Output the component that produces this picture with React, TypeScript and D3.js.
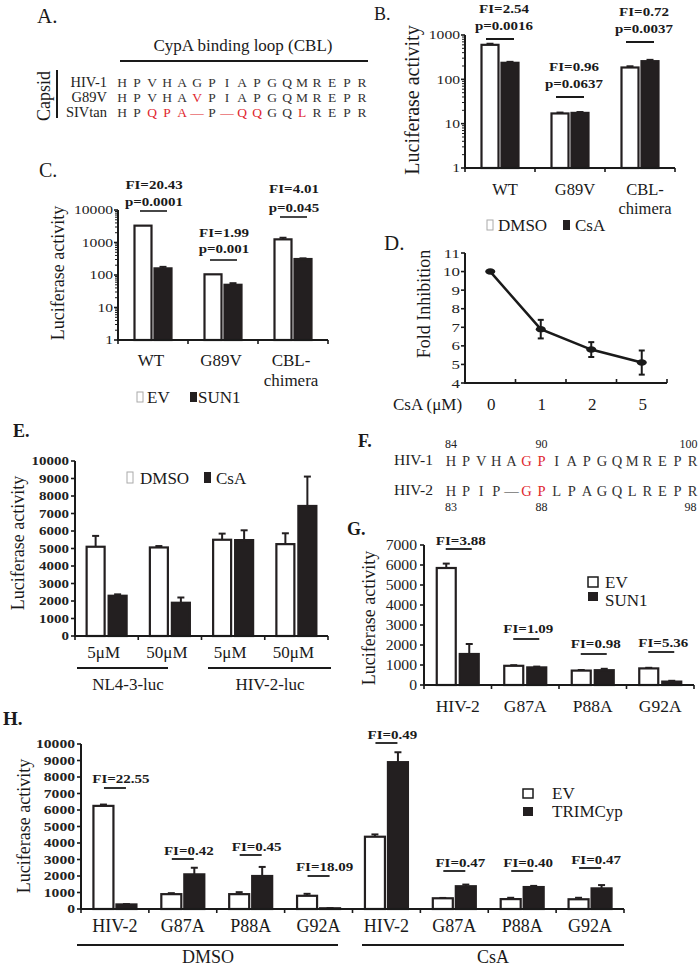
import React from "react";
import * as d3 from "d3";

const FONT = "'Liberation Serif','Times New Roman',Times,serif";
const INK = "#1a1a1a";
const DARK = "#231f20";
const RED = "#e0282e";

// ---------------- data ----------------
// A: sequences
const aRowLabels = ["HIV-1", "G89V", "SIVtan"];
const aSeqs = [
  ["H", "P", "V", "H", "A", "G", "P", "I", "A", "P", "G", "Q", "M", "R", "E", "P", "R"],
  ["H", "P", "V", "H", "A", "V", "P", "I", "A", "P", "G", "Q", "M", "R", "E", "P", "R"],
  ["H", "P", "Q", "P", "A", "—", "P", "—", "Q", "Q", "G", "Q", "L", "R", "E", "P", "R"],
];
const aRed = [[], [5], [2, 3, 4, 5, 7, 8, 9, 12]];
const aTitle = "CypA binding loop (CBL)";
const aSide = "Capsid";

// B
const bCats = ["WT", "G89V", "CBL-chimera"];
const bCatLines = [["WT"], ["G89V"], ["CBL-", "chimera"]];
const bDMSO = [600, 17, 185];
const bDMSOErr = [35, 0.8, 12];
const bCsA = [236, 17.5, 257];
const bCsAErr = [12, 0.8, 18];
const bFI = ["FI=2.54", "FI=0.96", "FI=0.72"];
const bP = ["p=0.0016", "p=0.0637", "p=0.0037"];
const bTicks = [1, 10, 100, 1000];
const bLegend = ["DMSO", "CsA"];

// C
const cCats = ["WT", "G89V", "CBL-chimera"];
const cCatLines = [["WT"], ["G89V"], ["CBL-", "chimera"]];
const cEV = [3300, 105, 1250];
const cEVErr = [0, 0, 150];
const cSUN1 = [160, 50, 310];
const cSUN1Err = [18, 6, 15];
const cFI = ["FI=20.43", "FI=1.99", "FI=4.01"];
const cP = ["p=0.0001", "p=0.001", "p=0.045"];
const cTicks = [1, 10, 100, 1000, 10000];
const cLegend = ["EV", "SUN1"];

// D
const dDose = ["0", "1", "2", "5"];
const dFold = [10, 6.9, 5.8, 5.1];
const dErr = [0.05, 0.5, 0.4, 0.65];
const dTicks = [4, 5, 6, 7, 8, 9, 10, 11];

// E
const eCats = ["5μM", "50μM", "5μM", "50μM"];
const eDMSO = [5100, 5060, 5500, 5250];
const eDMSOErr = [620, 80, 350, 620];
const eCsA = [2300, 1900, 5480, 7430];
const eCsAErr = [80, 300, 560, 1680];
const eGroups = ["NL4-3-luc", "HIV-2-luc"];
const eTicks = [0, 1000, 2000, 3000, 4000, 5000, 6000, 7000, 8000, 9000, 10000];
const eLegend = ["DMSO", "CsA"];

// F
const fRowLabels = ["HIV-1", "HIV-2"];
const fSeqs = [
  ["H", "P", "V", "H", "A", "G", "P", "I", "A", "P", "G", "Q", "M", "R", "E", "P", "R"],
  ["H", "P", "I", "P", "—", "G", "P", "L", "P", "A", "G", "Q", "L", "R", "E", "P", "R"],
];
const fRed = [[5, 6], [5, 6]];
const fTopNums = [["84", 0], ["90", 6], ["100", 16]];
const fBotNums = [["83", 0], ["88", 6], ["98", 16]];

// G
const gCats = ["HIV-2", "G87A", "P88A", "G92A"];
const gEV = [5850, 960, 720, 830];
const gEVErr = [220, 30, 30, 30];
const gSUN1 = [1550, 880, 740, 170];
const gSUN1Err = [500, 40, 70, 40];
const gFI = ["FI=3.88", "FI=1.09", "FI=0.98", "FI=5.36"];
const gTicks = [0, 1000, 2000, 3000, 4000, 5000, 6000, 7000];
const gLegend = ["EV", "SUN1"];

// H
const hCats = ["HIV-2", "G87A", "P88A", "G92A", "HIV-2", "G87A", "P88A", "G92A"];
const hEV = [6250, 900, 900, 800, 4380, 650, 600, 590];
const hEVErr = [80, 60, 120, 120, 140, 20, 80, 90];
const hTRIM = [277, 2100, 2000, 44, 8900, 1380, 1330, 1250];
const hTRIMErr = [20, 400, 550, 10, 600, 100, 70, 200];
const hFI = ["FI=22.55", "FI=0.42", "FI=0.45", "FI=18.09", "FI=0.49", "FI=0.47", "FI=0.40", "FI=0.47"];
const hTreat = ["DMSO", "CsA"];
const hTicks = [0, 1000, 2000, 3000, 4000, 5000, 6000, 7000, 8000, 9000, 10000];
const hLegend = ["EV", "TRIMCyp"];

// ---------------- layout (pixels) ----------------
const bAnn = [{ fi: 13, p: 30, line: 39 }, { fi: 71, p: 88, line: 97 }, { fi: 16, p: 33, line: 42 }];
const cAnn = [{ fi: 189, p: 206, line: 211 }, { fi: 237, p: 253, line: 260 }, { fi: 193, p: 212, line: 217 }];
const gAnn = [{ fi: 545, line: 549 }, { fi: 633, line: 639 }, { fi: 648, line: 654 }, { fi: 647, line: 652 }];
const hAnn = [
  { fi: 783, line: 788 }, { fi: 855, line: 859 }, { fi: 851, line: 855 }, { fi: 871, line: 876 },
  { fi: 739, line: 743 }, { fi: 867, line: 871 }, { fi: 867, line: 871 }, { fi: 864, line: 868 },
];

// ---------------- helpers ----------------
function T({ x, y, size = 17, anchor = "start", weight = "normal", fill = INK, sx = 1, rot = 0, children }: any) {
  const tr = `translate(${x},${y})` + (rot ? ` rotate(${rot})` : "") + (sx !== 1 ? ` scale(${sx},1)` : "");
  return (
    <text transform={tr} fontSize={size} textAnchor={anchor} fontWeight={weight} fill={fill}>
      {children}
    </text>
  );
}

function YAxis({ y, x0, ticks, minor = [], labelX, size = 12.5, sx = 1.25, bold = false }: any) {
  const [r0, r1] = y.range();
  return (
    <g>
      <line x1={x0} x2={x0} y1={r0 + 1} y2={r1} stroke={INK} strokeWidth={2} />
      {minor.map((v: number, i: number) => (
        <line key={"m" + i} x1={x0 - 3} x2={x0} y1={y(v)} y2={y(v)} stroke={INK} strokeWidth={1} />
      ))}
      {ticks.map((v: number, i: number) => (
        <g key={i}>
          <line x1={x0 - 4} x2={x0} y1={y(v)} y2={y(v)} stroke={INK} strokeWidth={1.6} />
          <T x={labelX} y={y(v) + size * 0.35} size={size} anchor="end" sx={sx} weight={bold ? "bold" : "normal"} fill="#222">
            {String(v)}
          </T>
        </g>
      ))}
    </g>
  );
}

function XAxis({ x, yb, up = false }: any) {
  const [a, b] = x.range();
  const n = x.domain().length;
  const step = x.step();
  return (
    <g>
      <line x1={a - 1} x2={b} y1={yb} y2={yb} stroke={INK} strokeWidth={2} />
      {d3.range(n + 1).map((i) => (
        <line key={i} x1={a + i * step} x2={a + i * step} y1={yb} y2={up ? yb - 4 : yb + 4} stroke={INK} strokeWidth={1.6} />
      ))}
    </g>
  );
}

function Bars({ x, y, keys, series, barW, gap }: any) {
  const n = series.length;
  const total = n * barW + (n - 1) * gap;
  const base = y.range()[0];
  return (
    <g>
      {keys.map((k: string, i: number) => {
        const c = (x(k) as number) + x.bandwidth() / 2;
        return series.map((s: any, j: number) => {
          const bx = c - total / 2 + j * (barW + gap);
          const v = s.values[i];
          const top = y(v);
          const e = s.errs ? s.errs[i] : 0;
          const ey = e > 0 ? y(v + e) : top;
          const mid = bx + barW / 2;
          return (
            <g key={i + "-" + j}>
              {e > 0 && (
                <g stroke={DARK} strokeWidth={2}>
                  <line x1={mid} x2={mid} y1={top} y2={ey} />
                  <line x1={mid - 3.5} x2={mid + 3.5} y1={ey} y2={ey} />
                </g>
              )}
              <rect x={bx} y={top} width={barW} height={Math.max(0, base - top)} fill={s.fill} stroke={DARK} strokeWidth={2.2} />
            </g>
          );
        });
      })}
    </g>
  );
}

function Seq({ letters, red, x0, dx, y, size }: any) {
  return (
    <g>
      {letters.map((l: string, i: number) => (
        <T key={i} x={x0 + i * dx} y={y} size={size} anchor="middle" fill={red.includes(i) ? RED : "#333"}>
          {l}
        </T>
      ))}
    </g>
  );
}

export default function App() {
  // ---- B ----
  const bx = d3.scaleBand<string>().domain(bCats).range([465, 675]);
  const by = d3.scaleLog().domain([1, 1000]).range([168, 35]);
  const logMinor = (maxExp: number) =>
    d3.range(0, maxExp).flatMap((k) => d3.range(2, 10).map((m) => m * Math.pow(10, k)));
  // ---- C ----
  const cx = d3.scaleBand<string>().domain(cCats).range([118, 328]);
  const cy = d3.scaleLog().domain([1, 10000]).range([340, 210]);
  // ---- D ----
  const dx = d3.scaleBand<string>().domain(dDose).range([465, 667]);
  const dy = d3.scaleLinear().domain([4, 11]).range([383, 253]);
  const dLine = d3
    .line<number>()
    .x((_, i) => (dx(dDose[i]) as number) + dx.bandwidth() / 2)
    .y((d) => dy(d));
  // ---- E ----
  const eKeys = eCats.map((_, i) => String(i));
  const ex = d3.scaleBand<string>().domain(eKeys).range([75, 328]);
  const ey = d3.scaleLinear().domain([0, 10000]).range([636, 461]);
  // ---- G ----
  const gx = d3.scaleBand<string>().domain(gCats).range([424, 694]);
  const gy = d3.scaleLinear().domain([0, 7000]).range([685, 545]);
  // ---- H ----
  const hKeys = hCats.map((_, i) => String(i));
  const hx = d3.scaleBand<string>().domain(hKeys).range([81, 624]);
  const hy = d3.scaleLinear().domain([0, 10000]).range([909, 744]);

  const ctr = (sc: any, k: string) => (sc(k) as number) + sc.bandwidth() / 2;
  const FIS = 12.5;
  const FISX = 1.2;

  return (
    <svg width={700} height={968} style={{ position: "absolute", left: 0, top: 0, fontFamily: FONT, background: "#fff" }}>
      <rect x={0} y={0} width={700} height={968} fill="#fff" />

      {/* ================= A ================= */}
      <T x={37} y={23} size={21}>A.</T>
      <T x={243} y={51} size={17} anchor="middle">{aTitle}</T>
      <line x1={120} x2={368} y1={61} y2={61} stroke={INK} strokeWidth={2} />
      <T x={50} y={96} size={18} anchor="middle" rot={-90}>{aSide}</T>
      <line x1={57} x2={57} y1={70} y2={118} stroke={INK} strokeWidth={2} />
      {aRowLabels.map((l, r) => (
        <g key={r}>
          <T x={107} y={87 + r * 15} size={14.5} anchor="end" fill="#222">{l}</T>
          <Seq letters={aSeqs[r]} red={aRed[r]} x0={122} dx={15} y={87 + r * 15} size={13.5} />
        </g>
      ))}

      {/* ================= B ================= */}
      <T x={374} y={20} size={18}>B.</T>
      <T x={419} y={100} size={20} anchor="middle" rot={-90}>Luciferase activity</T>
      <Bars x={bx} y={by} keys={bCats} barW={17} gap={3}
        series={[{ values: bDMSO, errs: bDMSOErr, fill: "#fff" }, { values: bCsA, errs: bCsAErr, fill: DARK }]} />
      <YAxis y={by} x0={465} ticks={bTicks} minor={logMinor(3)} labelX={460} />
      <XAxis x={bx} yb={168} />
      {bCats.map((k, i) => {
        const c = ctr(bx, k);
        return (
          <g key={k}>
            <T x={c + 4} y={bAnn[i].fi} size={FIS} sx={FISX} anchor="middle" weight="bold">{bFI[i]}</T>
            <T x={c + 4} y={bAnn[i].p} size={FIS} sx={FISX} anchor="middle" weight="bold">{bP[i]}</T>
            <line x1={c - 14} x2={c + 14} y1={bAnn[i].line} y2={bAnn[i].line} stroke={INK} strokeWidth={2} />
            {bCatLines[i].map((t, j) => (
              <T key={j} x={c + 5} y={195 + j * 19} size={16.5} anchor="middle">{t}</T>
            ))}
          </g>
        );
      })}
      <rect x={487} y={220} width={6} height={10} fill="#fff" stroke="#aaa" strokeWidth={1} />
      <T x={498} y={231} size={17}>{bLegend[0]}</T>
      <rect x={563} y={220} width={7} height={10} fill={DARK} />
      <T x={575} y={231} size={17}>{bLegend[1]}</T>

      {/* ================= C ================= */}
      <T x={39} y={177} size={20}>C.</T>
      <T x={64} y={273} size={18} anchor="middle" rot={-90}>Luciferase activity</T>
      <Bars x={cx} y={cy} keys={cCats} barW={17} gap={3}
        series={[{ values: cEV, errs: cEVErr, fill: "#fff" }, { values: cSUN1, errs: cSUN1Err, fill: DARK }]} />
      <YAxis y={cy} x0={118} ticks={cTicks} minor={logMinor(4)} labelX={113} />
      <XAxis x={cx} yb={340} />
      {cCats.map((k, i) => {
        const c = ctr(cx, k);
        return (
          <g key={k}>
            <T x={c + 1} y={cAnn[i].fi} size={FIS} sx={FISX} anchor="middle" weight="bold">{cFI[i]}</T>
            <T x={c + 1} y={cAnn[i].p} size={FIS} sx={FISX} anchor="middle" weight="bold">{cP[i]}</T>
            <line x1={c - 13} x2={c + 14} y1={cAnn[i].line} y2={cAnn[i].line} stroke={INK} strokeWidth={1.6} />
            {cCatLines[i].map((t, j) => (
              <T key={j} x={c - 2} y={366 + j * 20} size={17} anchor="middle">{t}</T>
            ))}
          </g>
        );
      })}
      <rect x={137} y={392} width={6} height={10} fill="#fff" stroke="#aaa" strokeWidth={1} />
      <T x={147} y={403} size={17}>{cLegend[0]}</T>
      <rect x={190} y={392} width={7} height={10} fill={DARK} />
      <T x={198} y={403} size={17}>{cLegend[1]}</T>

      {/* ================= D ================= */}
      <T x={384} y={250} size={21}>D.</T>
      <T x={430} y={304} size={18} anchor="middle" rot={-90}>Fold Inhibition</T>
      <YAxis y={dy} x0={465} ticks={dTicks} labelX={460} size={13} sx={1.3} />
      <XAxis x={dx} yb={383} up />
      <path d={dLine(dFold) || ""} fill="none" stroke={INK} strokeWidth={2.5} />
      {dFold.map((v, i) => {
        const c = ctr(dx, dDose[i]);
        const e = dErr[i];
        return (
          <g key={i}>
            {e > 0.1 && (
              <g stroke={INK} strokeWidth={2}>
                <line x1={c} x2={c} y1={dy(v - e)} y2={dy(v + e)} />
                <line x1={c - 3} x2={c + 3} y1={dy(v - e)} y2={dy(v - e)} />
                <line x1={c - 3} x2={c + 3} y1={dy(v + e)} y2={dy(v + e)} />
              </g>
            )}
            <ellipse cx={c} cy={dy(v)} rx={5} ry={3.2} fill={INK} />
            <T x={c + 1} y={410} size={17} anchor="middle">{dDose[i]}</T>
          </g>
        );
      })}
      <T x={393} y={410} size={17}>CsA (μM)</T>

      {/* ================= E ================= */}
      <T x={13} y={437} size={18} weight="bold">E.</T>
      <T x={24} y={543} size={18} anchor="middle" rot={-90}>Luciferase activity</T>
      <Bars x={ex} y={ey} keys={eKeys} barW={18} gap={4}
        series={[{ values: eDMSO, errs: eDMSOErr, fill: "#fff" }, { values: eCsA, errs: eCsAErr, fill: DARK }]} />
      <YAxis y={ey} x0={75} ticks={eTicks} labelX={69} size={12.5} sx={1.2} bold />
      <XAxis x={ex} yb={636} />
      {eKeys.map((k, i) => (
        <T key={k} x={ctr(ex, k) - 3} y={658} size={17} anchor="middle">{eCats[i]}</T>
      ))}
      <line x1={77} x2={168} y1={668} y2={668} stroke={INK} strokeWidth={2} />
      <line x1={208} x2={331} y1={668} y2={668} stroke={INK} strokeWidth={2} />
      <T x={128} y={690} size={17} anchor="middle">{eGroups[0]}</T>
      <T x={270} y={690} size={17} anchor="middle">{eGroups[1]}</T>
      <rect x={127} y={472} width={6} height={11} fill="#fff" stroke="#aaa" strokeWidth={1} />
      <T x={140} y={484} size={17}>{eLegend[0]}</T>
      <rect x={204} y={472} width={7} height={11} fill={DARK} />
      <T x={216} y={484} size={17}>{eLegend[1]}</T>

      {/* ================= F ================= */}
      <T x={358} y={447} size={18} weight="bold">F.</T>
      {fRowLabels.map((l, r) => (
        <g key={r}>
          <T x={433} y={465 + r * 30} size={15.5} anchor="end" fill="#222">{l}</T>
          <Seq letters={fSeqs[r]} red={fRed[r]} x0={451} dx={15.1} y={466 + r * 30} size={14.5} />
        </g>
      ))}
      {fTopNums.map(([t, i]: any) => (
        <T key={t} x={451 + i * 15.1 - (i === 16 ? 4 : 0)} y={448} size={12} anchor="middle" fill="#222">{t}</T>
      ))}
      {fBotNums.map(([t, i]: any) => (
        <T key={t} x={451 + i * 15.1 - (i === 16 ? 2 : 0)} y={511} size={12} anchor="middle" fill="#222">{t}</T>
      ))}

      {/* ================= G ================= */}
      <T x={347} y={535} size={18} weight="bold">G.</T>
      <T x={375} y={618} size={18} anchor="middle" rot={-90}>Luciferase activity</T>
      <Bars x={gx} y={gy} keys={gCats} barW={19} gap={4}
        series={[{ values: gEV, errs: gEVErr, fill: "#fff" }, { values: gSUN1, errs: gSUN1Err, fill: DARK }]} />
      <YAxis y={gy} x0={424} ticks={gTicks} labelX={417} size={14} sx={1.12} />
      <XAxis x={gx} yb={685} />
      {gCats.map((k, i) => {
        const c = ctr(gx, k);
        return (
          <g key={k}>
            <T x={c + 3} y={gAnn[i].fi} size={FIS} sx={FISX} anchor="middle" weight="bold">{gFI[i]}</T>
            <line x1={c - 12} x2={c + 14} y1={gAnn[i].line} y2={gAnn[i].line} stroke={INK} strokeWidth={1.8} />
            <T x={c} y={712} size={17.5} anchor="middle">{k}</T>
          </g>
        );
      })}
      <rect x={588} y={577} width={10} height={10} fill="#fff" stroke={INK} strokeWidth={1.5} />
      <T x={605} y={588} size={17}>{gLegend[0]}</T>
      <rect x={588} y={592} width={10} height={9} fill={DARK} />
      <T x={605} y={606} size={17}>{gLegend[1]}</T>

      {/* ================= H ================= */}
      <T x={3} y={725} size={19} weight="bold">H.</T>
      <T x={30} y={826} size={18} anchor="middle" rot={-90}>Luciferase activity</T>
      <Bars x={hx} y={hy} keys={hKeys} barW={20} gap={3}
        series={[{ values: hEV, errs: hEVErr, fill: "#fff" }, { values: hTRIM, errs: hTRIMErr, fill: DARK }]} />
      <YAxis y={hy} x0={81} ticks={hTicks} labelX={75} size={12.5} sx={1.25} bold />
      <XAxis x={hx} yb={909} />
      {hKeys.map((k, i) => {
        const c = ctr(hx, k);
        return (
          <g key={k}>
            <T x={c + 6} y={hAnn[i].fi} size={FIS} sx={FISX} anchor="middle" weight="bold">{hFI[i]}</T>
            <line x1={c - 11} x2={c + 11} y1={hAnn[i].line} y2={hAnn[i].line} stroke={INK} strokeWidth={1.8} />
            <T x={c} y={932} size={18} anchor="middle">{hCats[i]}</T>
          </g>
        );
      })}
      <line x1={77} x2={338} y1={945} y2={945} stroke={INK} strokeWidth={2} />
      <line x1={362} x2={624} y1={945} y2={945} stroke={INK} strokeWidth={2} />
      <T x={208} y={963} size={18} anchor="middle">{hTreat[0]}</T>
      <T x={493} y={963} size={18} anchor="middle">{hTreat[1]}</T>
      <rect x={523} y={789} width={10} height={9} fill="#fff" stroke={INK} strokeWidth={1.5} />
      <T x={552} y={799} size={17}>{hLegend[0]}</T>
      <rect x={523} y={807} width={10} height={9} fill={DARK} />
      <T x={552} y={817} size={17}>{hLegend[1]}</T>
    </svg>
  );
}
